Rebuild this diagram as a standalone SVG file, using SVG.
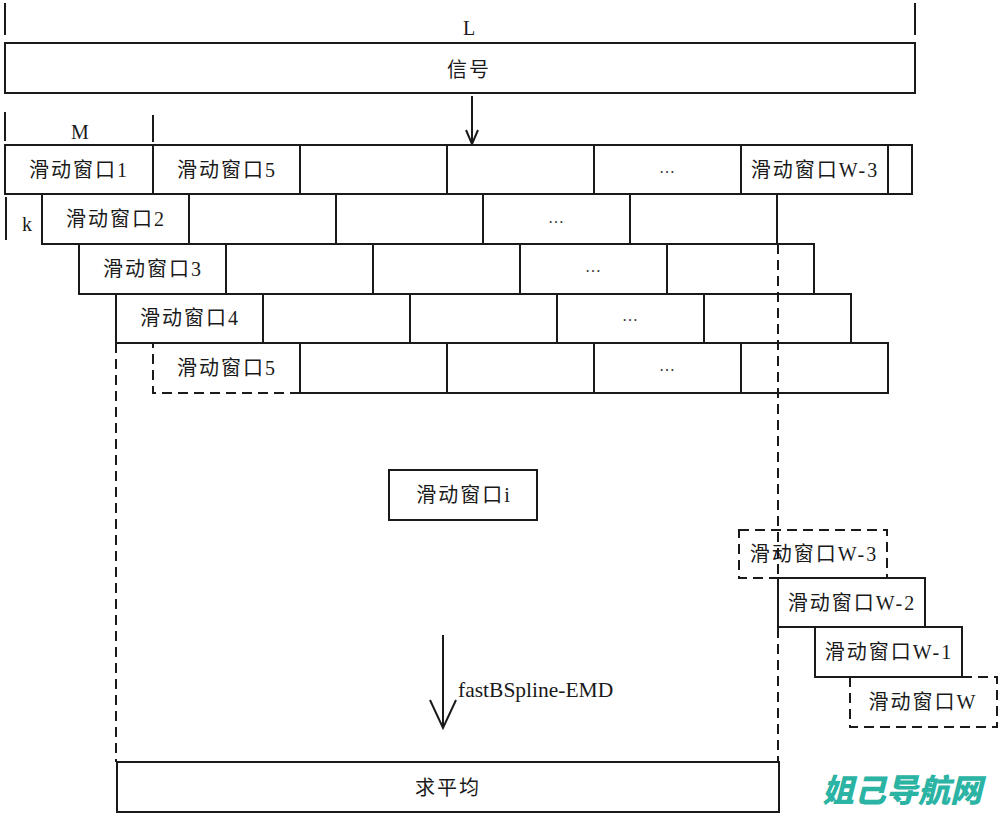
<svg xmlns="http://www.w3.org/2000/svg" width="1000" height="816" viewBox="0 0 1000 816">
<style>
.b{fill:#fff;stroke:#1a1a1a;stroke-width:2}
.l{fill:none;stroke:#1a1a1a;stroke-width:2}
.d{fill:none;stroke:#1a1a1a;stroke-width:2;stroke-dasharray:10 6}
.t{font-family:"Liberation Serif","Noto Sans CJK SC",serif;font-size:20px;fill:#1a1a1a;text-anchor:middle;letter-spacing:2px}
.e{font-family:"Liberation Serif",serif;font-size:20px;fill:#1a1a1a;text-anchor:middle}
.dots{font-family:"Liberation Serif",serif;font-size:16px;fill:#333;text-anchor:middle}
</style>
<rect width="1000" height="816" fill="#fff"/>
<g id="dims">
<line class="l" x1="5" y1="3" x2="5" y2="35"/>
<line class="l" x1="915" y1="3" x2="915" y2="35"/>
<text class="e" x="469" y="35">L</text>
<line class="l" x1="5" y1="112" x2="5" y2="141"/>
<line class="l" x1="153" y1="115" x2="153" y2="142"/>
<text class="e" x="80" y="139">M</text>
<line class="l" x1="6" y1="197" x2="6" y2="240"/>
<text class="e" x="27" y="231">k</text>
</g>
<g id="signal">
<rect class="b" x="5" y="43" width="910" height="50"/>
<text class="t" x="469" y="77">信号</text>
</g>
<g id="row1">
<rect class="b" x="5" y="145" width="907" height="49"/>
<path class="l" d="M153 145V194M300 145V194M447 145V194M594 145V194M741 145V194M888 145V194"/>
<text class="t" x="79" y="177">滑动窗口1</text>
<text class="t" x="227" y="177">滑动窗口5</text>
<text class="dots" x="667" y="173">…</text>
<text class="t" x="815" y="177">滑动窗口W-3</text>
</g>
<g id="row2">
<rect class="b" x="42" y="194" width="735" height="50"/>
<path class="l" d="M189 194V244M336 194V244M483 194V244M630 194V244"/>
<text class="t" x="116" y="226">滑动窗口2</text>
<text class="dots" x="556" y="223">…</text>
</g>
<g id="row3">
<rect class="b" x="79" y="244" width="735" height="50"/>
<path class="l" d="M226 244V294M373 244V294M520 244V294M667 244V294"/>
<text class="t" x="153" y="276">滑动窗口3</text>
<text class="dots" x="593" y="272">…</text>
</g>
<g id="row4">
<rect class="b" x="116" y="294" width="735" height="49"/>
<path class="l" d="M263 294V343M410 294V343M557 294V343M704 294V343"/>
<text class="t" x="190" y="325">滑动窗口4</text>
<text class="dots" x="630" y="321">…</text>
</g>
<g id="row5">
<rect class="b" x="300" y="343" width="588" height="50"/>
<path class="l" d="M447 343V393M594 343V393M741 343V393"/>
<path class="d" d="M300 393H153V343"/>
<text class="t" x="227" y="375">滑动窗口5</text>
<text class="dots" x="667" y="371">…</text>
</g>
<g id="bigframe">
<line class="d" x1="116" y1="343" x2="116" y2="762"/>
<line class="d" x1="778" y1="244" x2="778" y2="762"/>
</g>
<g id="wini">
<rect class="b" x="389" y="470" width="148" height="50"/>
<text class="t" x="464" y="502">滑动窗口i</text>
</g>
<g id="winW3">
<rect class="d" x="739" y="530" width="148" height="48" fill="none"/>
<text class="t" x="814" y="561">滑动窗口W-3</text>
</g>
<g id="winW2">
<rect class="b" x="778" y="578" width="147" height="49"/>
<text class="t" x="852" y="610">滑动窗口W-2</text>
</g>
<g id="winW1">
<rect class="b" x="815" y="627" width="147" height="50"/>
<text class="t" x="889" y="659">滑动窗口W-1</text>
</g>
<g id="winW">
<rect class="d" x="850" y="677" width="147" height="50"/>
<text class="t" x="923" y="709">滑动窗口W</text>
</g>
<g id="average">
<rect class="b" x="117" y="762" width="662" height="50"/>
<text class="t" x="448" y="795">求平均</text>
</g>
<g id="connectors">
<line class="l" x1="472" y1="96" x2="472" y2="144"/>
<path class="l" d="M466 130L472 144L478 130"/>
<line class="l" x1="443" y1="635" x2="443" y2="727"/>
<path class="l" d="M430 700L443 728L456 700"/>
<text x="458" y="697" style="font-family:'Liberation Serif',serif;font-size:21.5px;fill:#1a1a1a">fastBSpline-EMD</text>
</g>
<text x="822" y="802" style="font-family:'Noto Sans CJK SC',sans-serif;font-size:32px;font-weight:900;font-style:italic;fill:#2bb3a3">姐己导航网</text>
</svg>
